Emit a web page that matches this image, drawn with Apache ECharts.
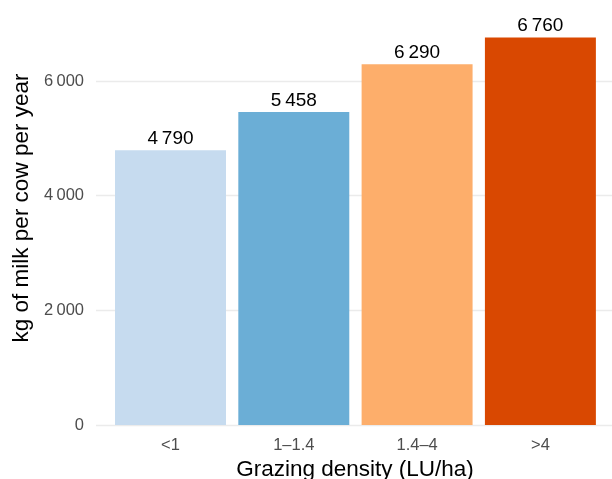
<!DOCTYPE html>
<html>
<head>
<meta charset="utf-8">
<script src="https://cdn.jsdelivr.net/npm/echarts@6/dist/echarts.min.js"></script>
<style>
  html, body { margin: 0; padding: 0; background: #ffffff; }
  #chart { width: 612px; height: 479px; }
</style>
</head>
<body>
<div id="chart"></div>
<script>
// Milk yield by grazing density class
const categories = ['<1', '1\u20131.4', '1.4\u20134', '>4'];
const milkYield = [4790, 5458, 6290, 6760];
const barColors = ['#c6dbef', '#6baed6', '#fdae6b', '#d94801'];
const yTickStep = 2000;
const yTickMax = 6000;
const yDataMax = 7100;

const xTitle = 'Grazing density (LU/ha)';
const yTitle = 'kg of milk per cow per year';

const FONT = '"Liberation Sans", Arial, Helvetica, sans-serif';

// thousands separated by a narrow no-break space
function fmt(v) {
  return String(Math.round(v)).replace(/\B(?=(\d{3})+(?!\d))/g, '\u202F');
}

// panel geometry (pixels)
const baseY = 425;             // y pixel of value 0
const pxPerUnit = 344 / 6000;  // vertical scale
const bandW = 123.3;           // width of one category band
const firstCenter = 170.5;     // centre of the first bar

const chart = echarts.init(document.getElementById('chart'), null, { renderer: 'canvas' });

chart.setOption({
  animation: false,
  backgroundColor: '#ffffff',
  textStyle: { fontFamily: FONT },
  grid: [
    // gridlines and value labels, spanning the full panel width
    { left: 96, top: baseY - yTickMax * pxPerUnit, width: 530, height: yTickMax * pxPerUnit },
    // bars
    { left: firstCenter - bandW / 2, top: baseY - yDataMax * pxPerUnit,
      width: bandW * categories.length, height: yDataMax * pxPerUnit }
  ],
  xAxis: [
    { gridIndex: 0, type: 'value', show: false, min: 0, max: 1 },
    {
      gridIndex: 1, type: 'category', data: categories,
      axisLine: { show: false }, axisTick: { show: false }, splitLine: { show: false },
      axisLabel: { color: '#4d4d4d', fontSize: 16.5, margin: 12, fontFamily: FONT }
    }
  ],
  yAxis: [
    {
      gridIndex: 0, type: 'value', min: 0, max: yTickMax, interval: yTickStep,
      axisLine: { show: false }, axisTick: { show: false },
      splitLine: { show: true, lineStyle: { color: '#ebebeb', width: 1.3 } },
      axisLabel: { color: '#4d4d4d', fontSize: 16.5, margin: 12, fontFamily: FONT, formatter: fmt }
    },
    { gridIndex: 1, type: 'value', min: 0, max: yDataMax, show: false }
  ],
  series: [{
    type: 'bar',
    xAxisIndex: 1,
    yAxisIndex: 1,
    barWidth: '90%',
    data: milkYield.map((v, i) => ({ value: v, itemStyle: { color: barColors[i] } })),
    label: {
      show: true, position: 'top', distance: 2,
      color: '#000000', fontSize: 19, fontFamily: FONT,
      formatter: p => fmt(p.value)
    }
  }],
  graphic: [
    {
      type: 'text', x: 355, y: 470,
      style: { text: xTitle, fill: '#000000', fontSize: 22.5, fontFamily: FONT,
               textAlign: 'center', textVerticalAlign: 'middle' }
    },
    {
      type: 'text', x: 22, y: 208, rotation: Math.PI / 2,
      style: { text: yTitle, fill: '#000000', fontSize: 22.5, fontFamily: FONT,
               textAlign: 'center', textVerticalAlign: 'middle' }
    }
  ]
});
</script>
</body>
</html>
